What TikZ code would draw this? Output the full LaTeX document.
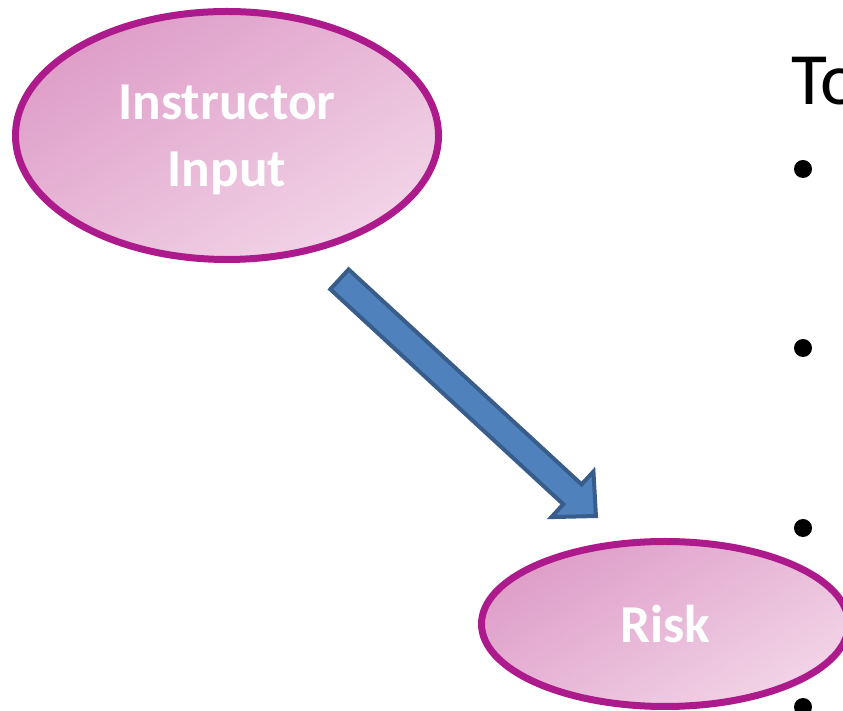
\documentclass[tikz,border=0pt]{standalone}
\usepackage{fontspec}
\setmainfont{Carlito}
\usetikzlibrary{shapes}
\definecolor{ovalrim}{RGB}{173,26,140}
\definecolor{ovaldark}{RGB}{222,157,200}
\definecolor{ovallight}{RGB}{242,212,231}
\definecolor{arrowfill}{RGB}{79,129,189}
\definecolor{arrowrim}{RGB}{56,93,138}
\tikzstyle{oval} = [ellipse, draw=ovalrim, line width=7bp, top color=ovaldark,
    bottom color=ovallight, shading angle=30, text=white, align=center,
    inner sep=0pt, font=\fontsize{53.5}{67}\selectfont\bfseries]
\tikzstyle{bullet} = [circle, fill=black, minimum size=18bp, inner sep=0pt]
\tikzstyle{blockarrow} = [draw=arrowrim, fill=arrowfill, line width=4bp, line join=miter]

\begin{document}
\begin{tikzpicture}[x=1bp, y=1bp]
\clip (0,0) rectangle (843,711);
\node[oval, minimum width=423bp, minimum height=248bp, text depth=-3bp] (instr) at (227,575.5) {Instructor\\Input};
\node[oval, minimum width=367bp, minimum height=165bp] (risk) at (665,87) {Risk};
\node[anchor=base west, inner sep=0pt, font=\fontsize{74}{88}\selectfont] (topic) at (791,606) {To};
\foreach \y [count=\i] in {542,363,183,4}
    \node[bullet] (dot\i) at (803,\y) {};
% arrow from instructor input down to risk
\coordinate (tail) at (338,433);
\begin{scope}[shift={(tail)}, rotate=-42.7]
\path[blockarrow] (2,13.5) -- (319,13.5) -- (319,31) -- (351,0) -- (319,-31)
    -- (319,-13.5) -- (2,-13.5) -- cycle;
\end{scope}
\end{tikzpicture}
\end{document}
